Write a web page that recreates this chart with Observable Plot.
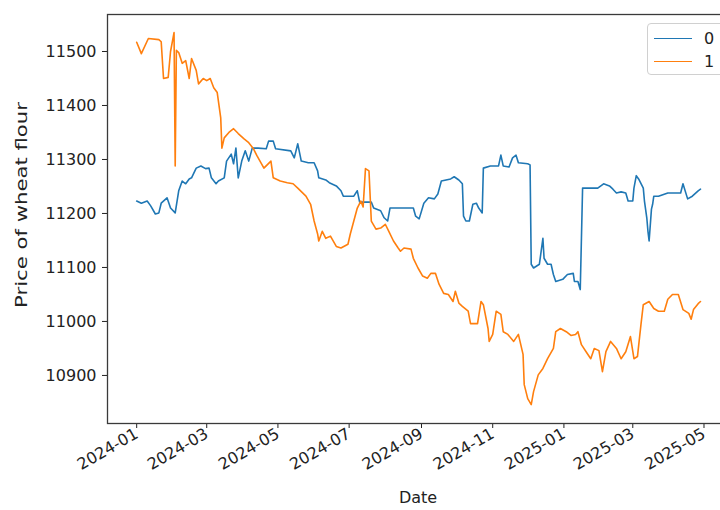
<!DOCTYPE html>
<html><head><meta charset="utf-8">
<script src="https://cdn.jsdelivr.net/npm/d3@7"></script>
<script src="https://cdn.jsdelivr.net/npm/@observablehq/plot@0.6"></script>
<style>
html,body{margin:0;padding:0;background:#fff;overflow:hidden}
#wrap{position:relative;width:720px;height:510px;overflow:hidden}
.legend{position:absolute;left:647px;top:23px;width:90px;height:50px;border:1px solid #d0d0d0;border-radius:4px;background:rgba(255,255,255,0.85);font-family:"DejaVu Sans";font-size:16px;color:#222}
.legend .row{position:absolute;left:6px;height:20px;display:flex;align-items:center}
.legend .sw{width:38px;height:0;border-top:1.6px solid;margin-right:12px}
</style></head><body><div id="wrap"></div>
<script>
const seriesNames = ["0", "1"];
const seriesColors = ["#1f77b4", "#ff7f0e"];
const xTickDates = ["2024-01-01","2024-03-01","2024-05-01","2024-07-01","2024-09-01","2024-11-01","2025-01-01","2025-03-01","2025-05-01"];
const yTicks = [10900, 11000, 11100, 11200, 11300, 11400, 11500];

const dates0 = ["2024-01-01","2024-01-05","2024-01-10","2024-01-13","2024-01-17","2024-01-20","2024-01-22","2024-01-27","2024-01-30",
"2024-02-03","2024-02-06","2024-02-09","2024-02-12","2024-02-15","2024-02-17","2024-02-21","2024-02-25","2024-02-29",
"2024-03-03","2024-03-05","2024-03-09","2024-03-11","2024-03-16","2024-03-18","2024-03-22","2024-03-24","2024-03-26","2024-03-28","2024-03-31",
"2024-04-03","2024-04-06","2024-04-09","2024-04-14","2024-04-21","2024-04-23","2024-04-27","2024-04-29",
"2024-05-12","2024-05-15","2024-05-18","2024-05-21","2024-05-27",
"2024-06-01","2024-06-04","2024-06-05","2024-06-11","2024-06-14","2024-06-20","2024-06-24","2024-06-26",
"2024-07-05","2024-07-08","2024-07-10","2024-07-20","2024-07-22","2024-07-28","2024-07-31",
"2024-08-03","2024-08-05","2024-08-25","2024-08-27","2024-08-30",
"2024-09-03","2024-09-07","2024-09-12","2024-09-15","2024-09-18","2024-09-26","2024-09-29",
"2024-10-03","2024-10-06","2024-10-07","2024-10-09","2024-10-12","2024-10-15","2024-10-18","2024-10-20","2024-10-23","2024-10-24","2024-10-30",
"2024-11-06","2024-11-08","2024-11-10","2024-11-15","2024-11-18","2024-11-21","2024-11-23",
"2024-12-01","2024-12-03","2024-12-04","2024-12-06","2024-12-11","2024-12-14","2024-12-15","2024-12-18","2024-12-21","2024-12-23","2024-12-25","2024-12-31",
"2025-01-04","2025-01-09","2025-01-10","2025-01-13","2025-01-15","2025-01-17","2025-01-30",
"2025-02-04","2025-02-09","2025-02-12","2025-02-15","2025-02-19","2025-02-23","2025-02-25",
"2025-03-01","2025-03-02","2025-03-04","2025-03-06","2025-03-10","2025-03-11","2025-03-13","2025-03-14","2025-03-15","2025-03-17","2025-03-18","2025-03-19","2025-03-23","2025-03-31",
"2025-04-11","2025-04-13","2025-04-17","2025-04-21","2025-04-26","2025-04-28"];
const values0 = [11223,11219,11223,11214,11199,11201,11219,11229,11210,
11201,11242,11260,11255,11264,11266,11284,11288,11283,
11284,11266,11255,11260,11266,11297,11310,11292,11321,11266,11297,
11316,11297,11321,11321,11320,11334,11334,11320,
11316,11303,11329,11297,11294,
11294,11279,11266,11262,11257,11251,11242,11232,
11232,11242,11221,11221,11210,11205,11192,
11186,11210,11210,11195,11190,
11219,11229,11227,11236,11260,11264,11268,
11262,11255,11195,11186,11186,11217,11219,11210,11201,11284,11288,
11288,11308,11288,11286,11303,11308,11294,
11292,11290,11106,11099,11106,11154,11117,11106,11106,11087,11074,11078,
11087,11089,11074,11074,11059,11247,11247,
11255,11251,11245,11238,11240,11238,11223,
11223,11247,11270,11264,11247,11223,11192,11167,11149,11208,11217,11232,11232,11238,
11238,11255,11227,11232,11242,11245];

const dates1 = ["2024-01-01","2024-01-05","2024-01-11","2024-01-20","2024-01-22","2024-01-24","2024-01-28","2024-01-30",
"2024-02-02","2024-02-03","2024-02-04","2024-02-06","2024-02-09","2024-02-12","2024-02-15","2024-02-17","2024-02-21","2024-02-23","2024-02-27",
"2024-03-01","2024-03-04","2024-03-07","2024-03-10","2024-03-13","2024-03-14","2024-03-16","2024-03-20","2024-03-24","2024-03-28",
"2024-04-02","2024-04-06","2024-04-10","2024-04-13","2024-04-19","2024-04-25","2024-04-27",
"2024-05-03","2024-05-09","2024-05-14","2024-05-18","2024-05-25","2024-05-29",
"2024-06-01","2024-06-04","2024-06-05","2024-06-08","2024-06-11","2024-06-15","2024-06-20","2024-06-24","2024-06-30",
"2024-07-02","2024-07-05","2024-07-08","2024-07-11","2024-07-13","2024-07-15","2024-07-18","2024-07-20","2024-07-24","2024-07-28",
"2024-08-01","2024-08-04","2024-08-08","2024-08-12","2024-08-14","2024-08-17","2024-08-23","2024-08-25","2024-08-29",
"2024-09-02","2024-09-06","2024-09-09","2024-09-13","2024-09-16","2024-09-20","2024-09-24","2024-09-28","2024-09-30",
"2024-10-03","2024-10-06","2024-10-11","2024-10-13","2024-10-19","2024-10-22","2024-10-24","2024-10-28","2024-10-29",
"2024-11-01","2024-11-04","2024-11-08","2024-11-10","2024-11-14","2024-11-19","2024-11-23","2024-11-27","2024-11-28",
"2024-12-01","2024-12-04","2024-12-06","2024-12-10","2024-12-14","2024-12-18","2024-12-23","2024-12-25","2024-12-29",
"2025-01-03","2025-01-07","2025-01-11","2025-01-13","2025-01-16","2025-01-20","2025-01-24","2025-01-27","2025-01-31",
"2025-02-03","2025-02-06","2025-02-10","2025-02-15","2025-02-19","2025-02-23","2025-02-27",
"2025-03-02","2025-03-05","2025-03-08","2025-03-10","2025-03-15","2025-03-19","2025-03-23","2025-03-28","2025-03-31",
"2025-04-04","2025-04-09","2025-04-13","2025-04-18","2025-04-20","2025-04-22","2025-04-26","2025-04-28"];
const values1 = [11517,11496,11524,11522,11518,11450,11452,11500,
11535,11288,11502,11498,11478,11483,11450,11487,11465,11440,11450,
11446,11450,11433,11424,11377,11321,11340,11350,11357,11348,
11338,11331,11320,11307,11284,11297,11266,
11260,11257,11255,11247,11232,11217,
11186,11162,11149,11167,11154,11158,11139,11136,11143,
11162,11186,11210,11223,11212,11283,11279,11186,11171,11173,
11180,11167,11149,11136,11130,11136,11134,11117,11099,
11084,11080,11089,11089,11069,11052,11050,11037,11056,
11034,11028,11019,10996,10996,11037,11031,10987,10963,
10976,11019,11013,10981,10976,10963,10976,10939,10883,
10857,10846,10870,10901,10913,10931,10950,10981,10987,
10981,10974,10976,10981,10957,10944,10931,10950,10946,
10907,10944,10963,10950,10931,10944,10972,
10931,10935,10994,11031,11037,11024,11019,11019,11041,
11050,11050,11022,11015,11004,11022,11033,11037];

const rows0 = dates0.map((d, i) => ({date: new Date(d), value: values0[i]}));
const rows1 = dates1.map((d, i) => ({date: new Date(d), value: values1[i]}));

const chart = Plot.plot({
  width: 720, height: 510,
  marginLeft: 107, marginRight: -8, marginTop: 14, marginBottom: 87,
  style: {fontFamily: "DejaVu Sans", fontSize: "16px", color: "#222", background: "#fff", overflow: "hidden"},
  x: {type: "utc", domain: [new Date("2023-12-07"), new Date("2025-05-22")],
      ticks: xTickDates.map(d => new Date(d)), tickFormat: d3.utcFormat("%Y-%m"),
      tickRotate: -30, tickSize: 5, tickPadding: 4,
      label: "Date", labelAnchor: "center", labelOffset: 79, labelArrow: "none"},
  y: {domain: [10811, 11568.5], ticks: yTicks, tickFormat: d3.format("d"),
      tickSize: 5, tickPadding: 6,
      label: "Price of wheat flour", labelAnchor: "center", labelOffset: 92, labelArrow: "none"},
  marks: [
    Plot.frame({stroke: "#3a3a3a", strokeWidth: 1.3}),
    Plot.line(rows0, {x: "date", y: "value", stroke: seriesColors[0], strokeWidth: 1.6}),
    Plot.line(rows1, {x: "date", y: "value", stroke: seriesColors[1], strokeWidth: 1.6})
  ]
});
const wrap = document.getElementById("wrap");
wrap.appendChild(chart);

// stretch the y-axis label along its length like the reference
const yLabelG = chart.querySelector('[aria-label="y-axis label"]');
if (yLabelG) {
  const t = yLabelG.querySelector("text");
  if (t) { t.setAttribute("textLength", "206"); t.setAttribute("lengthAdjust", "spacingAndGlyphs"); }
  const tr = yLabelG.getAttribute("transform") || "";
  yLabelG.setAttribute("transform", tr + " translate(0,-14)");
}

const legend = document.createElement("div");
legend.className = "legend";
seriesNames.forEach((name, i) => {
  const row = document.createElement("div");
  row.className = "row";
  row.style.top = (4 + i * 23) + "px";
  const sw = document.createElement("span");
  sw.className = "sw";
  sw.style.borderTopColor = seriesColors[i];
  const tx = document.createElement("span");
  tx.textContent = name;
  row.appendChild(sw); row.appendChild(tx);
  legend.appendChild(row);
});
wrap.appendChild(legend);
</script></body></html>
